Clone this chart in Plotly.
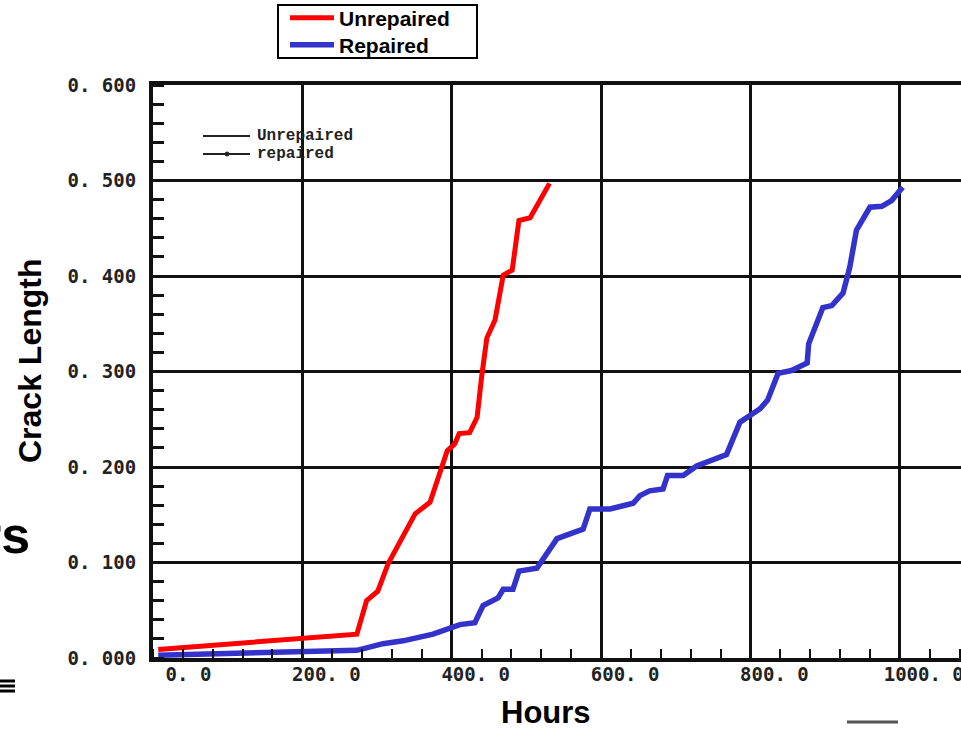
import plotly.graph_objects as go

# ---- data (hours, crack length) ----
unrep_hours = [7, 273, 286, 301, 315, 333, 351, 371, 394, 404, 410, 424, 434, 440, 447, 458, 469, 481, 490, 505, 531]
unrep_crack = [0.009, 0.025, 0.060, 0.070, 0.099, 0.126, 0.151, 0.163, 0.217, 0.224, 0.235, 0.236, 0.252, 0.294,
               0.335, 0.354, 0.401, 0.406, 0.458, 0.461, 0.497]

rep_hours = [7, 273, 308, 335, 375, 394, 411, 431, 442, 462, 469, 482, 490, 514, 541, 576, 585, 612, 643, 652,
             665, 683, 689, 710, 728, 768, 786, 813, 823, 837, 855, 876, 878, 897, 909, 924, 933, 942, 960,
             976, 989, 1004]
rep_crack = [0.003, 0.008, 0.015, 0.018, 0.025, 0.031, 0.035, 0.037, 0.055, 0.063, 0.072, 0.072, 0.091, 0.094,
             0.125, 0.135, 0.156, 0.156, 0.162, 0.170, 0.175, 0.177, 0.191, 0.191, 0.201, 0.213, 0.247, 0.261,
             0.270, 0.298, 0.301, 0.309, 0.329, 0.367, 0.369, 0.382, 0.409, 0.448, 0.472, 0.473, 0.479, 0.493]

x_tickvals = [0, 200, 400, 600, 800, 1000]
x_ticktext = ["\u00a0\u00a00. 0", "200. 0", "400. 0", "600. 0", "800. 0", "1000. 0"]
y_tickvals = [0.0, 0.1, 0.2, 0.3, 0.4, 0.5, 0.6]
y_ticktext = ["0. 000", "0. 100", "0. 200", "0. 300", "0. 400", "0. 500", "0. 600"]

W, H = 961, 729
L, R, T, B = 153, 0, 85, 71
PW, PH = W - L - R, H - T - B


def px(xp):
    return (xp - L) / PW


def py(yp):
    return (H - B - yp) / PH


fig = go.Figure()
fig.add_trace(go.Scatter(x=unrep_hours, y=unrep_crack, mode="lines", name="Unrepaired",
                         line=dict(color="#FF0000", width=5), legend="legend"))
fig.add_trace(go.Scatter(x=rep_hours, y=rep_crack, mode="lines", name="Repaired",
                         line=dict(color="#3333CC", width=5.5), legend="legend2"))

tickfont = dict(family="DejaVu Sans Mono", size=19, color="#222222", weight="bold")

fig.update_xaxes(
    range=[0, 1082], tickvals=x_tickvals, ticktext=x_ticktext, ticks="",
    showgrid=True, gridcolor="#111111", gridwidth=3,
    showline=True, linecolor="#111111", linewidth=4, mirror=True,
    zeroline=False, tickfont=tickfont, ticklabelshift=24, ticklabelstandoff=-4,
    ticklabeloverflow="allow", automargin=False,
    minor=dict(dtick=40, tick0=0, ticks="inside", ticklen=9, tickwidth=2, tickcolor="#111111", showgrid=False),
)
fig.update_yaxes(
    range=[0, 0.6], tickvals=y_tickvals, ticktext=y_ticktext, ticks="",
    showgrid=True, gridcolor="#111111", gridwidth=3,
    showline=True, linecolor="#111111", linewidth=4, mirror=False,
    zeroline=False, tickfont=tickfont, ticklabelstandoff=9, automargin=False,
    minor=dict(dtick=0.02, tick0=0, ticks="inside", ticklen=11, tickwidth=2.5, tickcolor="#111111", showgrid=False),
)

legfont = dict(family="Liberation Sans", size=21, color="#000000", weight="bold")
fig.update_layout(
    width=W, height=H,
    margin=dict(l=L, r=R, t=T, b=B, pad=0, autoexpand=False),
    paper_bgcolor="white", plot_bgcolor="white",
    showlegend=True,
    legend=dict(x=px(285), y=py(18), xanchor="left", yanchor="middle",
                bgcolor="rgba(0,0,0,0)", borderwidth=0, font=legfont, itemwidth=44),
    legend2=dict(x=px(285), y=py(45), xanchor="left", yanchor="middle",
                 bgcolor="rgba(0,0,0,0)", borderwidth=0, font=legfont, itemwidth=44),
)

# ---- legend frame, scanned in-chart legend and slide fragments ----
shapes = [
    dict(type="rect", xref="paper", yref="paper", x0=px(278), x1=px(477), y0=py(5), y1=py(58),
         line=dict(color="#000000", width=2), fillcolor="rgba(0,0,0,0)"),
    dict(type="line", xref="paper", yref="paper", x0=px(203), x1=px(250), y0=py(136), y1=py(136),
         line=dict(color="#222222", width=2)),
    dict(type="line", xref="paper", yref="paper", x0=px(203), x1=px(250), y0=py(154), y1=py(154),
         line=dict(color="#222222", width=2)),
    dict(type="circle", xref="paper", yref="paper", x0=px(225), x1=px(229), y0=py(152), y1=py(156),
         fillcolor="#222222", line=dict(color="#222222", width=1)),
    dict(type="line", xref="paper", yref="paper", x0=px(0), x1=px(15), y0=py(681), y1=py(681),
         line=dict(color="#000000", width=3)),
    dict(type="line", xref="paper", yref="paper", x0=px(0), x1=px(15), y0=py(686), y1=py(686),
         line=dict(color="#000000", width=3)),
    dict(type="line", xref="paper", yref="paper", x0=px(0), x1=px(15), y0=py(691), y1=py(691),
         line=dict(color="#000000", width=3)),
    dict(type="line", xref="paper", yref="paper", x0=px(847), x1=px(898), y0=py(722), y1=py(722),
         line=dict(color="#555555", width=3)),
]
fig.update_layout(shapes=shapes)

annotations = [
    # axis titles
    dict(text="<b>Hours</b>", x=px(546), y=py(712), xref="paper", yref="paper", xanchor="center",
         yanchor="middle", showarrow=False, font=dict(family="Liberation Sans", size=31, color="#000000")),
    dict(text="<b>Crack Length</b>", x=px(30), y=py(361), xref="paper", yref="paper", xanchor="center",
         yanchor="middle", showarrow=False, textangle=-90,
         font=dict(family="Liberation Sans", size=32, color="#000000")),
    # scanned in-chart legend text
    dict(text="<b>Unrepaired</b>", x=px(255), y=py(135.5), xref="paper", yref="paper", xanchor="left",
         yanchor="middle", showarrow=False, font=dict(family="Liberation Mono", size=16, color="#222222")),
    dict(text="<b>repaired</b>", x=px(255), y=py(154.5), xref="paper", yref="paper", xanchor="left",
         yanchor="middle", showarrow=False, font=dict(family="Liberation Mono", size=16, color="#222222")),
    # slide text fragment
    dict(text="<b>rs</b>", x=px(32), y=py(535), xref="paper", yref="paper", xanchor="right",
         yanchor="middle", showarrow=False, font=dict(family="Liberation Sans", size=52, color="#000000")),
]
fig.update_layout(annotations=annotations)

fig.write_html("out.html", config={"displayModeBar": False},
               post_script="document.body.style.margin='0px';")
